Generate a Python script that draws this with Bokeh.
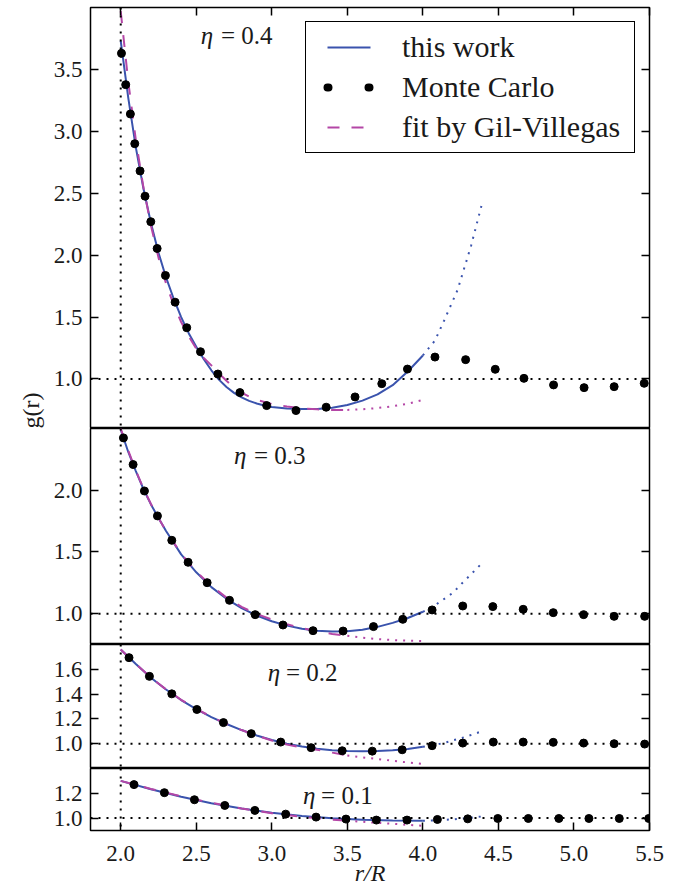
from math import pi
from bokeh.plotting import figure
from bokeh.models import (Range1d, LinearAxis, FixedTicker, Span, Label, Legend,
                          LegendItem, NumeralTickFormatter)
from bokeh.layouts import column, row
from bokeh.embed import file_html
from bokeh.resources import INLINE

# ---------------- data ----------------
x_ticks = [2.0, 2.5, 3.0, 3.5, 4.0, 4.5, 5.0, 5.5]

# eta = 0.4
mc04_r = [2.005, 2.033, 2.064, 2.093, 2.128, 2.161, 2.199, 2.241, 2.296, 2.36, 2.437, 2.528,
          2.643, 2.789, 2.966, 3.16, 3.36, 3.551, 3.728, 3.898, 4.08, 4.283, 4.479, 4.669,
          4.865, 5.067, 5.266, 5.465]
mc04_g = [3.63, 3.377, 3.14, 2.90, 2.68, 2.476, 2.27, 2.054, 1.836, 1.62, 1.414, 1.22,
          1.04, 0.89, 0.785, 0.745, 0.772, 0.855, 0.962, 1.08, 1.177, 1.156, 1.078, 1.005,
          0.952, 0.93, 0.938, 0.965]
tw04_r = [2.0, 2.05, 2.1, 2.15, 2.2, 2.25, 2.3, 2.35, 2.4, 2.45, 2.5, 2.55, 2.6, 2.65, 2.7,
          2.75, 2.8, 2.85, 2.9, 2.95, 3.0, 3.1, 3.2, 3.3, 3.4, 3.5, 3.6, 3.7, 3.8, 3.9, 4.0]
tw04_g = [3.73, 3.27, 2.87, 2.54, 2.26, 2.02, 1.82, 1.65, 1.50, 1.37, 1.26, 1.16, 1.07, 0.995,
          0.935, 0.888, 0.852, 0.823, 0.802, 0.786, 0.774, 0.762, 0.757, 0.758, 0.768, 0.79,
          0.825, 0.875, 0.95, 1.06, 1.19]
tw04x_r = [4.0, 4.08, 4.14, 4.23, 4.32, 4.39]
tw04x_g = [1.19, 1.31, 1.47, 1.72, 2.08, 2.41]
gv04_r = [2.0, 2.05, 2.1, 2.15, 2.2, 2.25, 2.3, 2.35, 2.4, 2.45, 2.5, 2.55, 2.6, 2.65, 2.7,
          2.75, 2.8, 2.85, 2.9, 3.0, 3.1, 3.2, 3.3, 3.4, 3.5]
gv04_g = [3.97, 3.40, 2.93, 2.55, 2.24, 1.98, 1.77, 1.60, 1.46, 1.345, 1.245, 1.17, 1.11,
          1.045, 0.985, 0.93, 0.89, 0.857, 0.832, 0.798, 0.778, 0.763, 0.755, 0.75, 0.75]
gv04x_r = [3.5, 3.6, 3.7, 3.8, 3.9, 4.0]
gv04x_g = [0.75, 0.755, 0.765, 0.78, 0.80, 0.83]

# eta = 0.3
mc03_r = [2.018, 2.082, 2.157, 2.243, 2.338, 2.446, 2.572, 2.72, 2.89, 3.074, 3.273, 3.472,
          3.673, 3.867, 4.061, 4.264, 4.463, 4.664, 4.863, 5.064, 5.266, 5.468]
mc03_g = [2.424, 2.208, 1.994, 1.792, 1.594, 1.416, 1.251, 1.108, 0.992, 0.908, 0.862, 0.859,
          0.895, 0.954, 1.03, 1.062, 1.057, 1.035, 1.008, 0.992, 0.978, 0.978]
tw03_r = [2.0, 2.05, 2.1, 2.15, 2.2, 2.25, 2.3, 2.4, 2.5, 2.6, 2.7, 2.8, 2.9, 3.0, 3.1, 3.2,
          3.3, 3.4, 3.5, 3.6, 3.7, 3.8, 3.9, 4.0]
tw03_g = [2.49, 2.31, 2.155, 2.01, 1.885, 1.775, 1.67, 1.48, 1.335, 1.215, 1.12, 1.045, 0.985,
          0.938, 0.903, 0.878, 0.862, 0.855, 0.857, 0.87, 0.893, 0.925, 0.965, 1.015]
tw03x_r = [4.0, 4.06, 4.13, 4.2, 4.25, 4.32, 4.4]
tw03x_g = [1.015, 1.05, 1.11, 1.17, 1.235, 1.32, 1.42]
gv03_r = [2.0, 2.05, 2.1, 2.15, 2.2, 2.25, 2.3, 2.4, 2.5, 2.6, 2.7, 2.8, 2.9, 3.0, 3.1, 3.2,
          3.3, 3.4, 3.5]
gv03_g = [2.5, 2.32, 2.16, 2.015, 1.888, 1.775, 1.67, 1.485, 1.34, 1.225, 1.13, 1.055, 0.997,
          0.952, 0.914, 0.883, 0.857, 0.835, 0.82]
gv03x_r = [3.5, 3.6, 3.7, 3.8, 3.9, 4.0]
gv03x_g = [0.82, 0.805, 0.794, 0.786, 0.781, 0.778]

# eta = 0.2
mc02_r = [2.055, 2.19, 2.338, 2.504, 2.68, 2.864, 3.059, 3.26, 3.466, 3.665, 3.863, 4.061,
          4.264, 4.466, 4.664, 4.863, 5.064, 5.266, 5.468]
mc02_g = [1.694, 1.543, 1.402, 1.276, 1.17, 1.081, 1.013, 0.968, 0.943, 0.94, 0.951, 0.984,
          1.005, 1.013, 1.013, 1.011, 1.005, 1.0, 0.997]
tw02_r = [2.0, 2.1, 2.2, 2.3, 2.4, 2.5, 2.6, 2.7, 2.8, 2.9, 3.0, 3.1, 3.2, 3.3, 3.4, 3.5, 3.6,
          3.7, 3.8, 3.9, 4.0]
tw02_g = [1.76, 1.643, 1.532, 1.437, 1.352, 1.279, 1.215, 1.159, 1.11, 1.066, 1.03, 1.0, 0.977,
          0.96, 0.948, 0.941, 0.939, 0.941, 0.947, 0.958, 0.975]
tw02x_r = [4.0, 4.1, 4.18, 4.28, 4.39]
tw02x_g = [0.975, 0.995, 1.02, 1.054, 1.10]
gv02_r = [2.0, 2.1, 2.2, 2.3, 2.4, 2.5, 2.6, 2.7, 2.8, 2.9, 3.0, 3.1, 3.2, 3.3, 3.4, 3.5]
gv02_g = [1.76, 1.643, 1.533, 1.438, 1.354, 1.281, 1.217, 1.16, 1.11, 1.065, 1.026, 0.993,
          0.968, 0.952, 0.928, 0.905]
gv02x_r = [3.5, 3.6, 3.7, 3.8, 3.9, 4.0]
gv02x_g = [0.905, 0.89, 0.877, 0.862, 0.849, 0.837]

# eta = 0.1
mc01_r = [2.088, 2.289, 2.488, 2.689, 2.888, 3.092, 3.293, 3.491, 3.692, 3.895, 4.096, 4.297,
          4.496, 4.698, 4.9, 5.099, 5.3, 5.495]
mc01_g = [1.27, 1.205, 1.148, 1.102, 1.062, 1.032, 1.008, 0.992, 0.984, 0.984, 0.989, 0.994,
          0.997, 0.997, 0.997, 0.997, 0.997, 0.997]
tw01_r = [2.0, 2.2, 2.4, 2.6, 2.8, 3.0, 3.2, 3.4, 3.6, 3.8, 4.0]
tw01_g = [1.30, 1.232, 1.172, 1.12, 1.078, 1.044, 1.017, 0.998, 0.986, 0.98, 0.978]
tw01x_r = [4.0, 4.1, 4.2, 4.3, 4.39]
tw01x_g = [0.978, 0.982, 0.99, 1.0, 1.013]
gv01_r = [2.0, 2.2, 2.4, 2.6, 2.8, 3.0, 3.2, 3.4, 3.5]
gv01_g = [1.30, 1.235, 1.176, 1.123, 1.078, 1.04, 1.01, 0.988, 0.978]
gv01x_r = [3.5, 3.6, 3.7, 3.8, 3.9, 4.0]
gv01x_g = [0.978, 0.97, 0.962, 0.954, 0.946, 0.938]

panel_labels = ["0.4", "0.3", "0.2", "0.1"]
y_ticks_04 = [1.0, 1.5, 2.0, 2.5, 3.0, 3.5]
y_ticks_03 = [1.0, 1.5, 2.0]
y_ticks_02 = [1.0, 1.2, 1.4, 1.6]
y_ticks_01 = [1.0, 1.2]
legend_labels = ["this work", "Monte Carlo", "fit by Gil-Villegas"]

# ---------------- styling ----------------
FONT = "'Liberation Serif', serif"
TXT = "#1a1a1a"
BLUE = "#3a53ad"
MAGENTA = "#b446a6"
FRAME_W = 559
LABEL_STRIP_W = 50
NAN = float("nan")
x_range = Range1d(1.8, 5.5)


def style_axis(ax, ticks, labels=True):
    ax.ticker = FixedTicker(ticks=ticks)
    ax.formatter = NumeralTickFormatter(format="0.0")
    ax.major_tick_in = 8
    ax.major_tick_out = 0
    ax.minor_tick_in = 0
    ax.minor_tick_out = 0
    ax.major_tick_line_width = 1.5
    ax.major_tick_line_color = "black"
    ax.axis_line_color = None
    ax.major_label_text_font = FONT
    ax.major_label_text_color = TXT
    if labels:
        ax.major_label_text_font_size = "23px"
        ax.major_label_standoff = 8
    else:
        ax.major_label_text_font_size = "0px"
        ax.major_label_standoff = 0
        ax.major_label_overrides = {t: "" for t in ticks}


def make_panel(ylo, yhi, yticks, frame_h, data, eta_xy, eq_x):
    p = figure(frame_width=FRAME_W, frame_height=frame_h, x_range=x_range,
               y_range=Range1d(ylo, yhi), output_backend="svg", toolbar_location=None,
               x_axis_location=None, min_border_left=90 - LABEL_STRIP_W,
               min_border_right=20, min_border_top=0, min_border_bottom=0)
    p.outline_line_color = "black"
    p.outline_line_width = 1.5
    p.outline_line_alpha = 1.0
    p.xgrid.visible = False
    p.ygrid.visible = False
    p.background_fill_color = "white"
    p.border_fill_color = "white"
    style_axis(p.yaxis[0], yticks, labels=True)
    right = LinearAxis()
    style_axis(right, yticks, labels=False)
    p.add_layout(right, "right")
    p.add_layout(Span(location=2.0, dimension="height", line_color="black",
                      line_width=2, line_dash="2 6"))
    p.add_layout(Span(location=1.0, dimension="width", line_color="black",
                      line_width=2, line_dash="2 6"))
    (mr, mg, tr, tg, txr, txg, gr, gg, gxr, gxg) = data
    r_tw = p.line(tr, tg, line_color=BLUE, line_width=2)
    p.line(txr, txg, line_color=BLUE, line_width=2, line_dash="2 6")
    r_gv = p.line(gr, gg, line_color=MAGENTA, line_width=2, line_dash="12 12")
    p.line(gxr, gxg, line_color=MAGENTA, line_width=2, line_dash="2 6")
    r_mc = p.scatter(mr, mg, size=8, color="black")
    ex, ey, lab = eta_xy
    p.add_layout(Label(x=ex, y=ey, text="η", text_font=FONT, text_font_style="italic",
                       text_font_size="25px", text_baseline="middle", text_align="left",
                       text_color=TXT))
    p.add_layout(Label(x=eq_x, y=ey, text="= " + lab, text_font=FONT,
                       text_font_size="25px", text_baseline="middle", text_align="left",
                       text_color=TXT))
    return p, r_tw, r_mc, r_gv


p1, tw1, mc1, gv1 = make_panel(0.6, 4.0, y_ticks_04, 421,
                               (mc04_r, mc04_g, tw04_r, tw04_g, tw04x_r, tw04x_g,
                                gv04_r, gv04_g, gv04x_r, gv04x_g),
                               (2.53, 3.77, panel_labels[0]), 2.663)
p2, _, _, _ = make_panel(0.75, 2.5, y_ticks_03, 216,
                         (mc03_r, mc03_g, tw03_r, tw03_g, tw03x_r, tw03x_g,
                          gv03_r, gv03_g, gv03x_r, gv03x_g),
                         (2.749, 2.284, panel_labels[1]), 2.882)
p3, _, _, _ = make_panel(0.8, 1.8, y_ticks_02, 124,
                         (mc02_r, mc02_g, tw02_r, tw02_g, tw02x_r, tw02x_g,
                          gv02_r, gv02_g, gv02x_r, gv02x_g),
                         (2.974, 1.578, panel_labels[2]), 3.094)
p4, _, _, _ = make_panel(0.9, 1.4, y_ticks_01, 62,
                         (mc01_r, mc01_g, tw01_r, tw01_g, tw01x_r, tw01x_g,
                          gv01_r, gv01_g, gv01x_r, gv01x_g),
                         (3.206, 1.18, panel_labels[3]), 3.326)
p1.min_border_top = 7

# top ticks on first panel
top = LinearAxis()
style_axis(top, x_ticks, labels=False)
p1.add_layout(top, "above")

# bottom axis on last panel
bottom = LinearAxis(axis_label="r/R")
style_axis(bottom, x_ticks, labels=True)
bottom.major_label_standoff = 15
bottom.axis_label_text_font = FONT
bottom.axis_label_text_font_size = "24px"
bottom.axis_label_text_font_style = "italic"
bottom.axis_label_text_color = TXT
bottom.axis_label_standoff = -4
p4.add_layout(bottom, "below")

# legend: sample-only renderers (NaN data draws nothing in the plot); their dash
# patterns place the sample glyphs like the reference
leg_tw = p1.line(x=[NAN], y=[NAN], line_color=BLUE, line_width=2,
                 line_dash="0 16 43 1000")
# two round dots at +16 and +57; the dot that the pattern puts at the very start
# is covered by a white dot drawn after it
leg_mc = p1.line(x=[NAN], y=[NAN], line_color="black", line_width=8, line_cap="round",
                 line_dash="1 15 1 40 1 1000")
leg_mc_cover = p1.line(x=[NAN], y=[NAN], line_color="white", line_width=11,
                       line_cap="round", line_dash="2 1000")
leg_gv = p1.line(x=[NAN], y=[NAN], line_color=MAGENTA, line_width=2,
                 line_dash="0 16 12 12 12 1000")
legend = Legend(items=[LegendItem(label=legend_labels[0], renderers=[leg_tw]),
                       LegendItem(label=legend_labels[1], renderers=[leg_mc, leg_mc_cover]),
                       LegendItem(label=legend_labels[2], renderers=[leg_gv])],
                location="top_right", margin=14, padding=5, spacing=0,
                glyph_width=64, glyph_height=40, label_standoff=27, label_width=227,
                label_height=40,
                label_text_font=FONT, label_text_font_size="30px",
                label_text_color=TXT, border_line_color="black",
                border_line_width=1.5, border_line_alpha=1.0,
                background_fill_color="white", background_fill_alpha=1.0)
p1.add_layout(legend)

# strip on the left carrying the shared y label
strip_h = 836
strip = figure(width=LABEL_STRIP_W, height=strip_h, x_range=Range1d(0, LABEL_STRIP_W),
               y_range=Range1d(strip_h, 0), output_backend="svg", toolbar_location=None,
               x_axis_location=None, y_axis_location=None, min_border=0)
strip.outline_line_color = None
strip.xgrid.visible = False
strip.ygrid.visible = False
strip.add_layout(Label(x=30, y=410, text="g(r)", angle=pi / 2, text_font=FONT,
                       text_font_size="24px", text_align="center", text_baseline="middle",
                       text_color=TXT))

layout = row(strip, column(p1, p2, p3, p4, spacing=0), spacing=0)
open("out.html", "w").write(file_html(layout, INLINE))
